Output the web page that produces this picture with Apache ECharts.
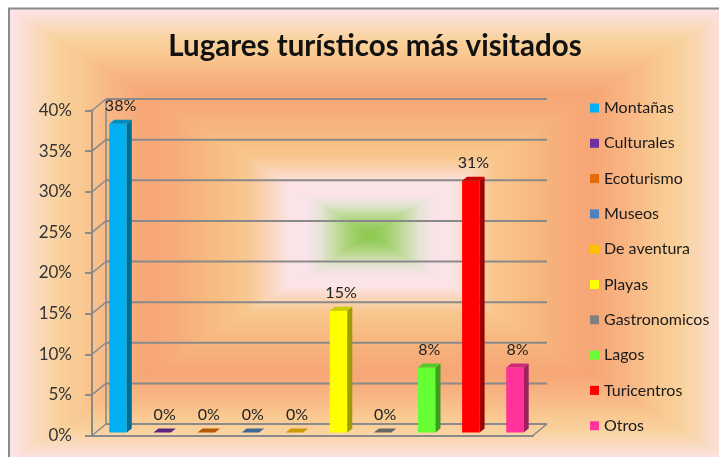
<!DOCTYPE html>
<html>
<head>
<meta charset="utf-8">
<script src="https://cdn.jsdelivr.net/npm/echarts@6/dist/echarts.min.js"></script>
<style>
  html, body { margin: 0; padding: 0; background: #ffffff; }
  #chart { width: 719px; height: 457px; }
</style>
</head>
<body>
<div id="chart"></div>
<script>
// Survey results: share of answers per type of tourist destination
const categories = ['Montañas', 'Culturales', 'Ecoturismo', 'Museos', 'De aventura',
                    'Playas', 'Gastronomicos', 'Lagos', 'Turicentros', 'Otros'];
const shares = [0.38, 0, 0, 0, 0, 0.15, 0, 0.08, 0.31, 0.08];
const percentTicks = [0, 0.05, 0.10, 0.15, 0.20, 0.25, 0.30, 0.35, 0.40];

const palette = ['#00B0F0', '#7030A0', '#E36C09', '#4F81BD', '#FFC000',
                 '#FFFF00', '#808080', '#66FF33', '#FF0000', '#FF3399'];

// rectangular backdrop gradient, 0 = centre of the chart box, 1 = its border
const backdropStops = [
  [0.00, '#8CC84E'], [0.04, '#9ACD62'], [0.09, '#BEDA96'], [0.14, '#E6E4D6'],
  [0.18, '#FAE3EA'], [0.23, '#FCE4E6'], [0.28, '#FAD6BC'], [0.35, '#F8C68C'],
  [0.42, '#F8BE84'], [0.52, '#F7AF7B'], [0.62, '#F7A676'], [0.72, '#F8B684'],
  [0.80, '#F9C890'], [0.87, '#F9D29E'], [0.94, '#FADCC6'], [1.00, '#FCE4EA']
];

const FONT = 'Lato, "Open Sans", "Noto Sans", sans-serif';
const WALL_DX = 14, WALL_DY = -11.5;     // depth of the floor / side wall
const COL_W = 17.5, COL_DX = 5, COL_DY = -4, COL_SX = 4, COL_SY = -3;
const FRAME = '#8A8A8A';

function hexToRgb(h) {
  return [parseInt(h.slice(1, 3), 16), parseInt(h.slice(3, 5), 16), parseInt(h.slice(5, 7), 16)];
}
function shade(h, f) {
  const c = hexToRgb(h).map(v => Math.round(v * f));
  return 'rgb(' + c.join(',') + ')';
}
function backdropColor(t) {
  for (let i = 1; i < backdropStops.length; i++) {
    const [t1, c1] = backdropStops[i];
    if (t <= t1) {
      const [t0, c0] = backdropStops[i - 1];
      const k = (t - t0) / (t1 - t0);
      const a = hexToRgb(c0), b = hexToRgb(c1);
      return 'rgb(' + a.map((v, j) => Math.round(v + (b[j] - v) * k)).join(',') + ')';
    }
  }
  return backdropStops[backdropStops.length - 1][1];
}

// chart box with its nested-rectangle gradient
const box = { x: 9, y: 9, w: 722, h: 452 };
const cx = box.x + box.w / 2, cy = box.y + box.h / 2;
const backdrop = [];
const STEPS = 160;
for (let k = STEPS; k >= 1; k--) {
  const t = k / STEPS;
  const hw = box.w / 2 * t, hh = box.h / 2 * t;
  backdrop.push({
    type: 'rect', silent: true, z: -10,
    shape: { x: cx - hw, y: cy - hh, width: hw * 2, height: hh * 2 },
    style: { fill: backdropColor(t) }
  });
}
backdrop.push({
  type: 'rect', silent: true, z: -5,
  shape: { x: 9, y: 8.5, width: 740, height: 470 },
  style: { fill: 'none', stroke: '#8A8A8A', lineWidth: 2 }
});

// walls: side-wall diagonals, back-wall gridlines, floor edges
function drawFrame(params, api) {
  const cs = params.coordSys;
  const y = api.coord([0, api.value(1)])[1];
  const children = [
    { type: 'line', shape: { x1: cs.x, y1: y, x2: cs.x + WALL_DX, y2: y + WALL_DY },
      style: { stroke: FRAME, lineWidth: 1.6 } },
    { type: 'line', shape: { x1: cs.x + WALL_DX, y1: y + WALL_DY, x2: cs.x + cs.width + WALL_DX, y2: y + WALL_DY },
      style: { stroke: FRAME, lineWidth: 2 } }
  ];
  if (params.dataIndex === 0) {
    const yTop = api.coord([0, percentTicks[percentTicks.length - 1]])[1];
    children.push(
      { type: 'line', shape: { x1: cs.x + cs.width, y1: y, x2: cs.x + cs.width + WALL_DX, y2: y + WALL_DY },
        style: { stroke: FRAME, lineWidth: 1.6 } },
      { type: 'line', shape: { x1: cs.x + WALL_DX, y1: yTop + WALL_DY, x2: cs.x + WALL_DX, y2: y + WALL_DY },
        style: { stroke: FRAME, lineWidth: 1.6 } }
    );
  }
  return { type: 'group', children };
}

// one 3-D column: front face, right side, top and value label
function drawColumn(params, api) {
  const i = api.value(0), v = api.value(1);
  const base = api.coord([i, 0]);
  const top = api.coord([i, v]);
  const col = api.visual('color');
  const x0 = base[0] + COL_SX - COL_W / 2, x1 = x0 + COL_W;
  const yb = base[1] + COL_SY, yt = top[1] + COL_SY;
  const children = [];
  if (yb - yt > 0.5) {
    children.push(
      { type: 'rect', shape: { x: x0, y: yt, width: COL_W, height: yb - yt }, style: { fill: col } },
      { type: 'polygon', shape: { points: [[x1, yt], [x1 + COL_DX, yt + COL_DY], [x1 + COL_DX, yb + COL_DY], [x1, yb]] },
        style: { fill: shade(col, 0.62) } }
    );
  }
  children.push(
    { type: 'polygon', shape: { points: [[x0, yt], [x0 + COL_DX, yt + COL_DY], [x1 + COL_DX, yt + COL_DY], [x1, yt]] },
      style: { fill: shade(col, 0.8) } },
    { type: 'text', style: {
        text: Math.round(v * 100) + '%', x: (x0 + x1 + COL_DX) / 2, y: yt + COL_DY - 6,
        align: 'center', verticalAlign: 'bottom', textAlign: 'center', textVerticalAlign: 'bottom',
        fontSize: 16, fontFamily: FONT, fill: '#222222' } }
  );
  return { type: 'group', children };
}

const series = [{
  type: 'custom', name: '_frame', silent: true, z: 1,
  renderItem: drawFrame,
  data: percentTicks.map(v => [0, v])
}];
categories.forEach((name, i) => {
  series.push({
    type: 'custom', name, z: 3,
    itemStyle: { color: palette[i] },
    renderItem: drawColumn,
    data: [[i, shares[i]]]
  });
});

const chart = echarts.init(document.getElementById('chart'), null, { renderer: 'canvas' });
chart.setOption({
  animation: false,
  backgroundColor: '#ffffff',
  graphic: backdrop,
  title: {
    text: 'Lugares turísticos más visitados',
    left: 370, top: 26, textAlign: 'center',
    textStyle: { fontFamily: FONT, fontSize: 29.5, fontWeight: 'bold', color: '#111111' }
  },
  legend: {
    orient: 'vertical', left: 585, top: 94,
    data: categories, icon: 'rect', itemWidth: 9, itemHeight: 9, itemGap: 17.3,
    selectedMode: false,
    textStyle: { fontFamily: FONT, fontSize: 16, color: '#1A1A1A', lineHeight: 18 }
  },
  grid: { left: 92, top: 110.5, width: 441, height: 325 },
  xAxis: {
    type: 'category', data: categories, boundaryGap: true,
    axisLine: { lineStyle: { color: FRAME, width: 2 } },
    axisTick: { show: false }, axisLabel: { show: false }, splitLine: { show: false }
  },
  yAxis: {
    type: 'value', min: 0, max: 0.4, interval: 0.05,
    axisLine: { show: true, lineStyle: { color: FRAME, width: 2 } },
    axisTick: { show: true, length: 7, lineStyle: { color: FRAME, width: 2 } },
    axisLabel: { margin: 20, fontFamily: FONT, fontSize: 17, color: '#333333',
                 formatter: v => Math.round(v * 100) + '%' },
    splitLine: { show: false }
  },
  series
});
</script>
</body>
</html>
